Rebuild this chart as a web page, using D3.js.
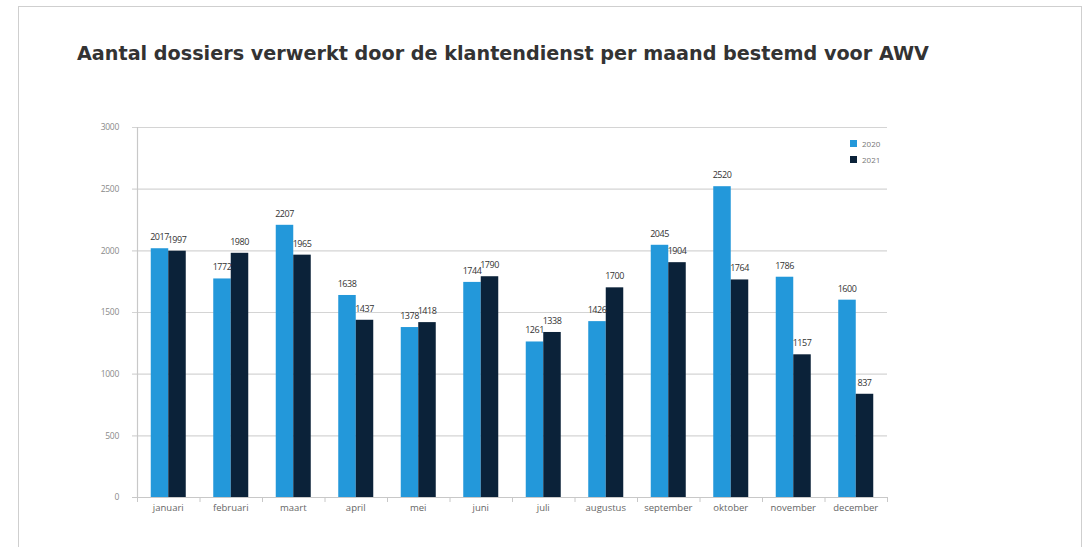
<!DOCTYPE html>
<html><head><meta charset="utf-8">
<script src="https://cdn.jsdelivr.net/npm/d3@7"></script>
<style>body{margin:0;background:#fff;}svg{display:block;font-family:"Open Sans",sans-serif;}</style>
</head><body>
<svg id="c" width="1090" height="547"></svg>
<script>
const months = ["januari","februari","maart","april","mei","juni","juli","augustus","september","oktober","november","december"];
const series = ["2020","2021"];
const values2020 = [2017,1772,2207,1638,1378,1744,1261,1426,2045,2520,1786,1600];
const values2021 = [1997,1980,1965,1437,1418,1790,1338,1700,1904,1764,1157,837];
const yTicks = [0,500,1000,1500,2000,2500,3000];
const colors = ["#2398da","#0b2239"];

const svg = d3.select("#c");
svg.append("rect").attr("x",18.5).attr("y",6.5).attr("width",1063).attr("height",560)
  .attr("fill","none").attr("stroke","#cfcfcf");
svg.append("text").attr("x",77).attr("y",60).attr("font-family","DejaVu Sans").attr("font-weight","bold")
  .attr("font-size",19.2).attr("fill","#333").text("Aantal dossiers verwerkt door de klantendienst per maand bestemd voor AWV");

const L=137,R=887,T=127,B=497;
const x = d3.scaleBand().domain(months).range([L,R]).paddingInner(0.44).paddingOuter(0.22);
const xs = d3.scaleBand().domain(series).range([0,x.bandwidth()]);
const y = d3.scaleLinear().domain([0,3000]).range([B,T]);

svg.selectAll("line.grid").data(yTicks).join("line").attr("class","grid")
  .attr("x1",L-5).attr("x2",R).attr("y1",d=>y(d)+0.5).attr("y2",d=>y(d)+0.5)
  .attr("stroke","#d4d4d4").attr("stroke-width",1.2);
const ya = svg.append("g").attr("transform",`translate(${L-14},0)`)
  .call(d3.axisLeft(y).tickValues(yTicks).tickFormat(d3.format("d")).tickSize(0).tickPadding(4));
ya.select(".domain").remove();
ya.selectAll("text").attr("font-size",8.5).attr("fill","#8a8a8a").attr("font-family","Open Sans").attr("letter-spacing",-0.3);
svg.append("line").attr("x1",L+0.5).attr("x2",L+0.5).attr("y1",T).attr("y2",B).attr("stroke","#c8c8c8").attr("stroke-width",1.2);

const data = months.map((m,i)=>({m, v:[values2020[i],values2021[i]]}));
const grp = svg.selectAll("g.m").data(data).join("g").attr("class","m").attr("transform",d=>`translate(${x(d.m)},0)`);
grp.selectAll("rect").data(d=>d.v.map((v,j)=>({s:series[j],v,j}))).join("rect")
  .attr("x",d=>xs(d.s)).attr("width",xs.bandwidth()).attr("y",d=>y(d.v)).attr("height",d=>B-y(d.v))
  .attr("fill",d=>colors[d.j]);
grp.selectAll("text").data(d=>d.v.map((v,j)=>({s:series[j],v,j}))).join("text")
  .attr("x",d=>xs(d.s)+xs.bandwidth()/2).attr("y",d=>y(d.v)-8).attr("text-anchor","middle")
  .attr("font-size",9).attr("letter-spacing",-0.5).attr("fill","#333").text(d=>d.v);

// x axis
const xa = svg.append("g").attr("transform",`translate(0,${B})`);
xa.append("line").attr("x1",L-5).attr("x2",R).attr("y1",0.5).attr("y2",0.5).attr("stroke","#c8c8c8").attr("stroke-width",1.2);
xa.selectAll("line.t").data(d3.range(months.length+1)).join("line").attr("class","t")
  .attr("x1",i=>L+i*(R-L)/months.length+0.5).attr("x2",i=>L+i*(R-L)/months.length+0.5)
  .attr("y1",0).attr("y2",5).attr("stroke","#c8c8c8");
xa.selectAll("text").data(months).join("text").attr("x",d=>x(d)+x.bandwidth()/2).attr("y",14)
  .attr("text-anchor","middle").attr("font-size",9.5).attr("fill","#666").text(d=>d);

// legend
const lg = svg.append("g").attr("transform","translate(850,140)");
series.forEach((s,i)=>{
  lg.append("rect").attr("x",0).attr("y",i*16).attr("width",7).attr("height",7).attr("fill",colors[i]);
  lg.append("text").attr("x",12).attr("y",i*16+6.5).attr("font-size",8).attr("fill","#777").text(s);
});
</script>
</body></html>
